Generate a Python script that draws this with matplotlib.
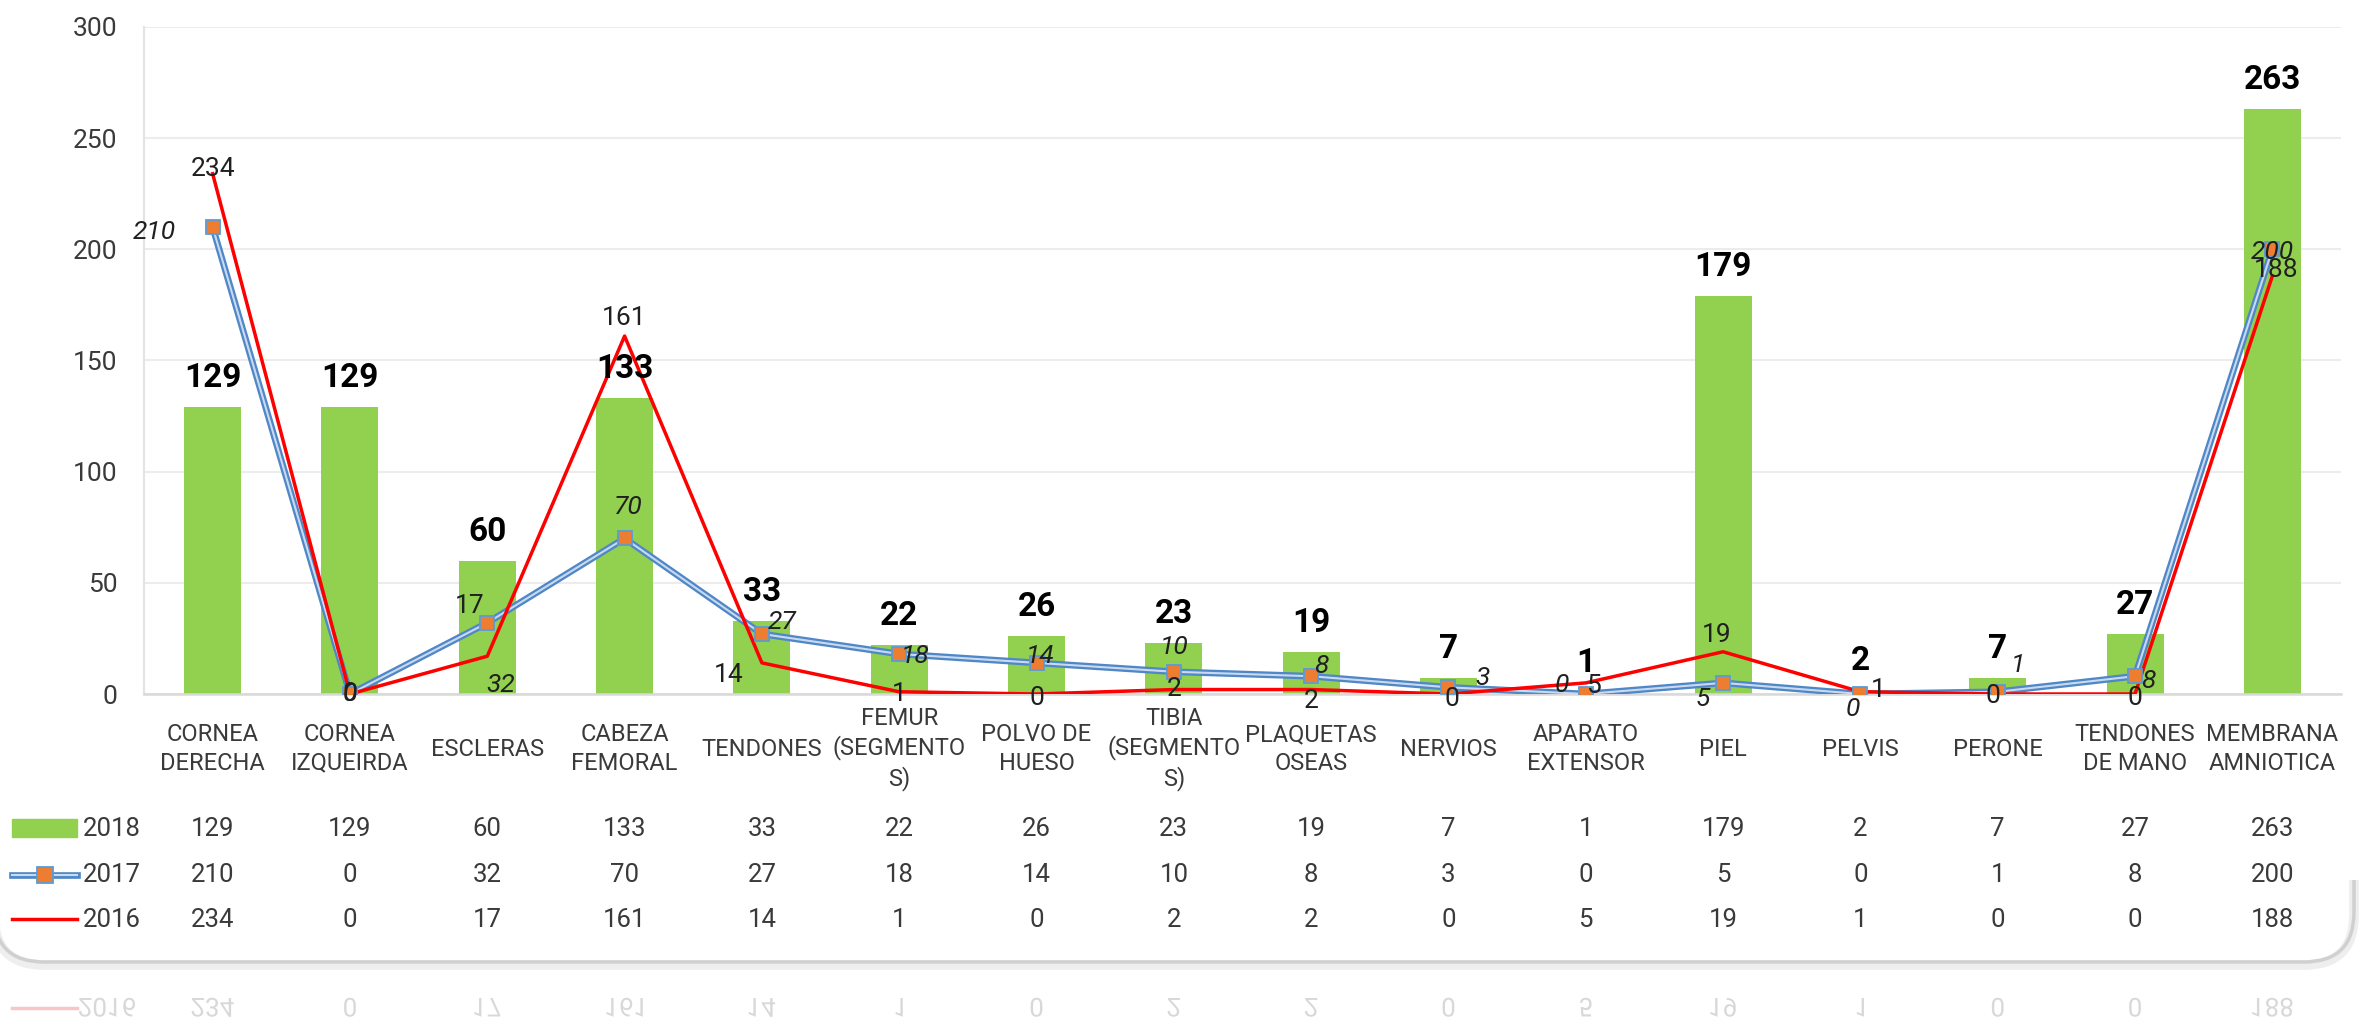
import matplotlib
matplotlib.use("Agg")
import matplotlib.pyplot as plt
from matplotlib import transforms
from matplotlib.patches import FancyBboxPatch, Rectangle, PathPatch
from matplotlib.textpath import TextPath
from matplotlib.font_manager import FontProperties

# ===============================
# DATA
# ===============================
categorias = ["CORNEA\nDERECHA", "CORNEA\nIZQUEIRDA", "ESCLERAS", "CABEZA\nFEMORAL",
              "TENDONES", "FEMUR\n(SEGMENTO\nS)", "POLVO DE\nHUESO", "TIBIA\n(SEGMENTO\nS)",
              "PLAQUETAS\nOSEAS", "NERVIOS", "APARATO\nEXTENSOR", "PIEL", "PELVIS",
              "PERONE", "TENDONES\nDE MANO", "MEMBRANA\nAMNIOTICA"]
v2018 = [129, 129, 60, 133, 33, 22, 26, 23, 19, 7, 1, 179, 2, 7, 27, 263]
v2017 = [210, 0, 32, 70, 27, 18, 14, 10, 8, 3, 0, 5, 0, 1, 8, 200]
v2016 = [234, 0, 17, 161, 14, 1, 0, 2, 2, 0, 5, 19, 1, 0, 0, 188]
series_names = ["2018", "2017", "2016"]
y_ticks = [0, 50, 100, 150, 200, 250, 300]

# label offsets (pixels) as Excel placed them
off2017 = [(-58, -5), (0, 0), (13, -62), (4, 31), (20, 12), (16, -2), (4, 7), (0, 25),
           (10, 10), (34, 9), (-24, 9), (-20, -16), (-8, -15), (20, 27), (13, -5), (0, -3)]
off2016 = [(0, 5), (0, 0), (-18, 50), (0, 18), (-33, -12), (0, -2), (0, -4), (0, 1),
           (0, -11), (3, -5), (8, -3), (-6, 17), (18, 2), (-5, -2), (0, -4), (4, 6)]

GREEN = "#92d050"
BLUE = "#4f87c7"
BLUE_IN = "#c9daf0"
ORANGE = "#ed7d31"
RED = "#ff0000"
TXT = "#3a3a3a"

FAM = ['Roboto', 'DejaVu Sans']
plt.rcParams['font.family'] = FAM

W, H = 2366, 1019
fig = plt.figure(figsize=(W / 100, H / 100), dpi=100)

# background axes in pixel coords
bg = fig.add_axes([0, 0, 1, 1])
bg.set_xlim(0, W)
bg.set_ylim(H, 0)
bg.axis("off")

ax = fig.add_axes([144 / W, 1 - 694 / H, (2341 - 144) / W, (694 - 27) / H])
ax.set_facecolor("none")

x = list(range(len(categorias)))

# ===============================
# BARS + LINES
# ===============================
ax.bar(x, v2018, width=0.415, color=GREEN, zorder=2)
ax.plot(x, v2017, color=BLUE, lw=4.8, zorder=3)
ax.plot(x, v2017, color=BLUE_IN, lw=1.5, zorder=3.1)
ax.plot(x, v2016, color=RED, lw=2.5, zorder=3.2)
ax.plot(x, v2017, ls="none", marker="s", ms=10.5, mfc=ORANGE, mec="#5b9bd5", mew=1.3, zorder=3.3)

ax.set_xlim(-0.5, len(categorias) - 0.5)
ax.set_ylim(0, 300)
ax.set_yticks(y_ticks)
ax.set_xticks([])
ax.tick_params(axis="y", length=0, pad=19, labelsize=19, labelcolor=TXT)
ax.yaxis.grid(True, color="#ececec", lw=1.5)
ax.set_axisbelow(True)
for s in ["top", "right"]:
    ax.spines[s].set_visible(False)
ax.spines["left"].set_color("#e3e3e3")
ax.spines["left"].set_linewidth(1.5)
ax.spines["bottom"].set_color("#d9d9d9")
ax.spines["bottom"].set_linewidth(1.8)

# ===============================
# DATA LABELS
# ===============================
for i, v in enumerate(v2018):
    ax.annotate(str(v), (i, v), xytext=(0, 29), textcoords="offset pixels",
                ha="center", va="center", fontsize=24, fontweight="bold",
                color="black", zorder=6)
for i, v in enumerate(v2017):
    ax.annotate(str(v), (i, v), xytext=off2017[i], textcoords="offset pixels",
                ha="center", va="center", fontsize=19, style="italic",
                color="#202020", zorder=6)
for i, v in enumerate(v2016):
    ax.annotate(str(v), (i, v), xytext=off2016[i], textcoords="offset pixels",
                ha="center", va="center", fontsize=19, color="#202020", zorder=6)

# ===============================
# CATEGORY LABELS + DATA TABLE
# ===============================
tr = transforms.blended_transform_factory(ax.transData, bg.transData)
for i, lab in enumerate(categorias):
    ax.text(i, 749, lab, transform=tr, ha="center", va="center", fontsize=17,
            linespacing=1.28, color=TXT, clip_on=False)

row_y = [829, 875, 920]
for vals, yy in zip([v2018, v2017, v2016], row_y):
    for i, v in enumerate(vals):
        ax.text(i, yy, str(v), transform=tr, ha="center", va="center",
                fontsize=18.5, color=TXT, clip_on=False)

for name, yy in zip(series_names, row_y):
    bg.text(83, yy, name, ha="left", va="center", fontsize=18.5, color=TXT)

bg.add_patch(Rectangle((12, 819), 65, 18, color=GREEN))
bg.plot([12, 77], [875, 875], color=BLUE, lw=4.8)
bg.plot([12, 77], [875, 875], color=BLUE_IN, lw=1.5)
bg.plot([45], [875], ls="none", marker="s", ms=11, mfc=ORANGE, mec="#5b9bd5", mew=1.3)
bg.plot([12, 77], [919, 919], color=RED, lw=2.5)

# ===============================
# FRAME (bottom edge only) + REFLECTION
# ===============================
clip = Rectangle((-10, 880), W + 20, 200, transform=bg.transData, visible=False)
bg.add_patch(clip)
for lw, ec, dy, z in [(7, "#eeeeee", 3, 0), (2.5, "#d0d0d0", 0, 0.5)]:
    frame = FancyBboxPatch((-6, -80), W - 6, 1042 + dy, boxstyle="round,pad=0,rounding_size=50",
                           fc="none", ec=ec, lw=lw, zorder=z)
    bg.add_patch(frame)
    frame.set_clip_path(clip)

fp = FontProperties(family=FAM)
bg.plot([12, 77], [1008, 1008], color="#f7c6c6", lw=2.5)


def mirrored(s, xc, base):
    tp = TextPath((0, 0), s, size=26, prop=fp)
    ext = tp.get_extents()
    t = transforms.Affine2D().translate(xc - ext.width / 2 - ext.x0, base)
    return PathPatch(t.transform_path(tp), fc="#d8d8d8", ec="none")


bg.add_patch(mirrored(series_names[2], 83 + 24, 998))
for i, v in enumerate(v2016):
    xc = bg.transData.inverted().transform(tr.transform((i, 0)))[0]
    bg.add_patch(mirrored(str(v), xc, 998))

fig.savefig("out.png", dpi=100)
